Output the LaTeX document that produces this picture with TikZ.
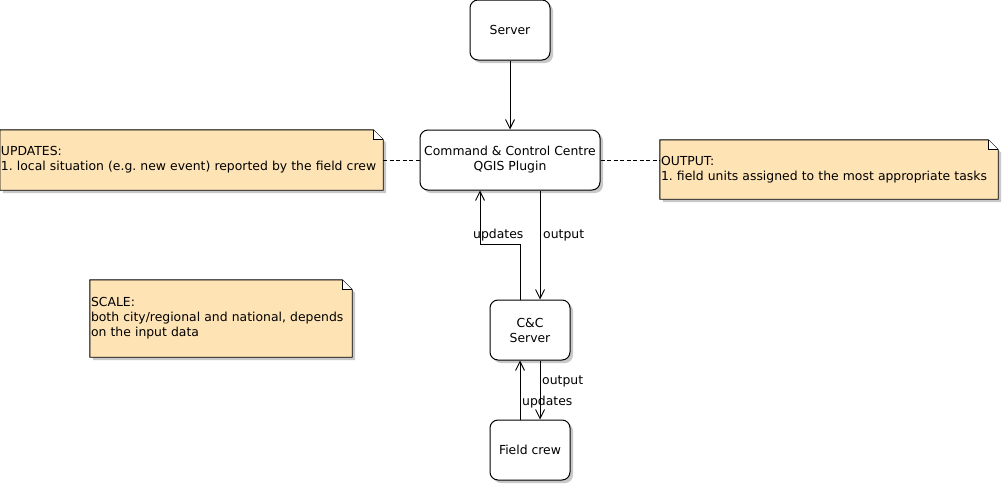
\documentclass[tikz,border=0pt]{standalone}
\usepackage{fontspec}
\setmainfont{DejaVu Sans}
\usetikzlibrary{arrows.meta,shadows,backgrounds}
\definecolor{notefill}{HTML}{FEE3B5}
\definecolor{shadowc}{HTML}{C8C8C8}
\pgfdeclarelayer{bottom}
\pgfsetlayers{bottom,background,main}
\frenchspacing
\newcommand\mynotefold[1]{%
  \begin{pgfonlayer}{background}
    \fill[shadowc] ([xshift=3pt,yshift=-3pt]#1.south west) -- ([xshift=3pt,yshift=-3pt]#1.north west)
      -- ([xshift=-7pt,yshift=-3pt]#1.north east) -- ([xshift=3pt,yshift=-13pt]#1.north east)
      -- ([xshift=3pt,yshift=-3pt]#1.south east) -- cycle;
    \draw[fill=notefill, line width=0.9pt] (#1.south west) -- (#1.north west) -- ([xshift=-10pt]#1.north east)
      -- ([yshift=-10pt]#1.north east) -- (#1.south east) -- cycle;
    \fill[white] ([xshift=-10pt]#1.north east) -- ([xshift=-10pt,yshift=-10pt]#1.north east) -- ([yshift=-10pt]#1.north east) -- cycle;
    \draw[line width=0.9pt] ([xshift=-10pt]#1.north east) -- ([xshift=-10pt,yshift=-10pt]#1.north east) -- ([yshift=-10pt]#1.north east);
  \end{pgfonlayer}}
\begin{document}
\begin{tikzpicture}[x=1pt,y=-1pt,
  font=\fontsize{12.4}{15}\selectfont\frenchspacing,
  box/.style={draw, line width=1pt, fill=white, rounded corners=8pt,
    minimum width=80pt, minimum height=60pt, align=center, inner sep=0pt,
    drop shadow={shadow xshift=3pt, shadow yshift=-3pt, fill=shadowc, opacity=1}},
  note/.style={inner xsep=1pt, inner ysep=0pt, align=left},
  arr/.style={line width=0.9pt, -{Straight Barb[length=9pt,width=9pt,line width=0.9pt]}},
  notelink/.style={line width=0.9pt, dash pattern=on 4pt off 2.5pt},
  lbl/.style={inner sep=0pt, anchor=base west}]
\begin{pgfonlayer}{bottom}
  \fill[white] (0,0) rectangle (1005,485);
\end{pgfonlayer}
\useasboundingbox (0,0) rectangle (1005,485);

\node[box] (server) at (510,30) {Server};
\node[box, minimum width=180pt] (plugin) at (510,160) {Command \& Control Centre\\QGIS Plugin};
\node[box] (ccs) at (530,330) {C\&C\\Server};
\node[box] (fc) at (530,450) {Field crew};

\node[note, minimum height=60pt, text width=381pt] (upd) at (191.5,160)
  {UPDATES:\\\mbox{1. local situation (e.g. new event) reported by the field crew}};
\mynotefold{upd}
\node[note, minimum height=59pt, text width=336pt] (out) at (829,169.5)
  {OUTPUT:\\\mbox{1. field units assigned to the most appropriate tasks}};
\mynotefold{out}
\node[note, minimum height=77pt, text width=260pt] (scale) at (221,318.5)
  {SCALE:\\\mbox{both city/regional and national, depends}\\on the input data};
\mynotefold{scale}

\draw[arr] (server) -- (plugin);
\draw[arr] ([xshift=30pt]plugin.south) -- ([xshift=10pt]ccs.north);
\draw[arr] ([xshift=-10pt]ccs.north) -- ++(0,-55) -| ([xshift=-30pt]plugin.south);
\draw[arr] ([xshift=10pt]ccs.south) -- ([xshift=10pt]fc.north);
\draw[arr] ([xshift=-10pt]fc.north) -- ([xshift=-10pt]ccs.south);

\draw[notelink] (upd.east) -- (plugin.west);
\draw[notelink] (plugin.east) -- (plugin.east -| out.west);

\node[lbl] (l1) at (473,238) {updates};
\node[lbl] (l2) at (543,238) {output};
\node[lbl] (l3) at (542,384) {output};
\node[lbl] (l4) at (522,405) {updates};
\end{tikzpicture}
\end{document}
